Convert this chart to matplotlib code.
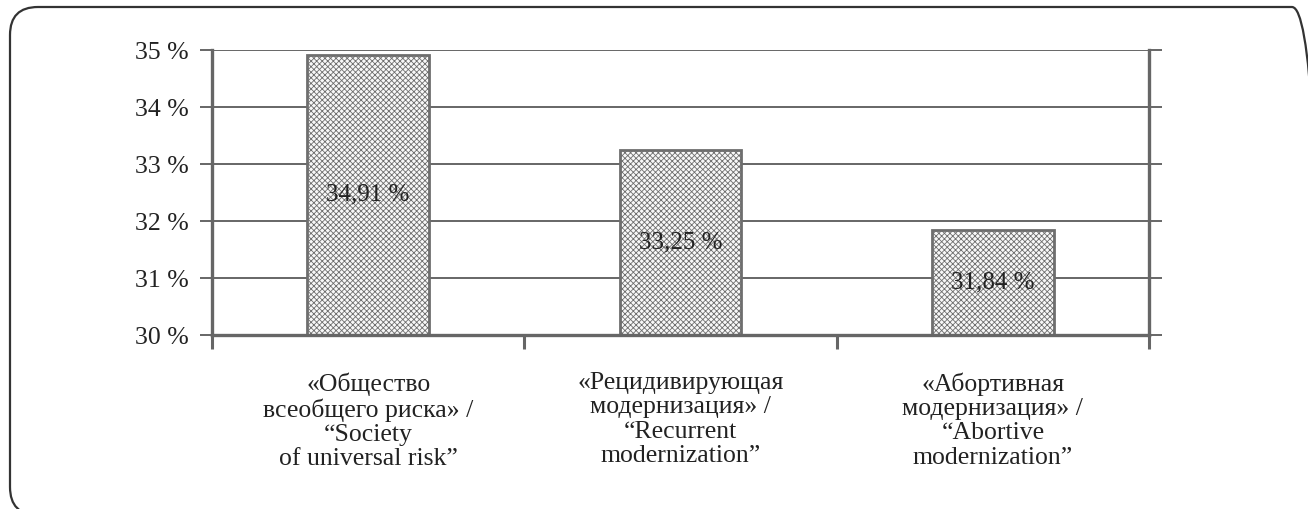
import matplotlib
matplotlib.use("Agg")
import matplotlib.pyplot as plt
from matplotlib.patches import FancyBboxPatch
import numpy as np

plt.rcParams['font.family'] = ['Liberation Serif', 'DejaVu Serif']
plt.rcParams['hatch.color'] = '#cccccc'
plt.rcParams['hatch.linewidth'] = 0.6

# data
categories = ['«Общество\nвсеобщего риска» /\n“Society\nof universal risk”',
              '«Рецидивирующая\nмодернизация» /\n“Recurrent\nmodernization”',
              '«Абортивная\nмодернизация» /\n“Abortive\nmodernization”']
values = [34.91, 33.25, 31.84]
value_labels = ['34,91 %', '33,25 %', '31,84 %']
yticks = [30, 31, 32, 33, 34, 35]
ytick_labels = ['30 %', '31 %', '32 %', '33 %', '34 %', '35 %']

W, H = 1308, 510
fig = plt.figure(figsize=(W / 100, H / 100), dpi=100)

# rounded frame around the whole thing (runs off the right/bottom edge)
bg = fig.add_axes([0, 0, 1, 1])
bg.set_xlim(0, W)
bg.set_ylim(0, H)
bg.axis('off')
r = 28
left, right, bottom, top = 10, 1320, -6, 502
frame = FancyBboxPatch((left + r, bottom + r), right - left - 2 * r,
                       top - bottom - 2 * r,
                       boxstyle='round,pad=%g' % r, fc='none', ec='#333333',
                       lw=1.6)
bg.add_patch(frame)

axl, axr, axt, axb = 212, 1149, 51, 336
ax = fig.add_axes([axl / W, 1 - axb / H, (axr - axl) / W, (axb - axt) / H])

x = np.arange(len(categories))
ax.bar(x, np.array(values) - 30, bottom=30, width=0.39, color='#f8f8f8',
       edgecolor='#6e6e6e', linewidth=2.0, hatch='xxxxxx', zorder=3)

for xi, v, lab in zip(x, values, value_labels):
    ax.text(xi, (30 + v) / 2 + 0.02, lab, ha='center', va='center',
            fontsize=18, color='#222222', zorder=4)

ax.set_xlim(-0.5, 2.5)
ax.set_ylim(30, 35)
ax.set_yticks(yticks)
ax.set_yticklabels(ytick_labels, fontsize=18.5, color='#222222')
ax.yaxis.grid(True, color='#5a5a5a', linewidth=1.3, zorder=0)

ax.set_xticks(x)
ax.set_xticklabels(categories, fontsize=18.5, color='#222222', linespacing=1.14)
ax.set_xticks([-0.5, 0.5, 1.5, 2.5], minor=True)
ax.tick_params(axis='x', which='major', length=0, pad=26)
ax.tick_params(axis='x', which='minor', length=10, width=2.2, color='#666666',
               direction='out')
ax.tick_params(axis='y', which='major', left=True, right=True, length=9,
               width=1.3, color='#5a5a5a', direction='out', pad=8)

for s in ['left', 'right', 'bottom']:
    ax.spines[s].set_color('#666666')
    ax.spines[s].set_linewidth(2.4)
    ax.spines[s].set_zorder(5)
ax.spines['top'].set_visible(False)

fig.savefig('out.png', dpi=100)
